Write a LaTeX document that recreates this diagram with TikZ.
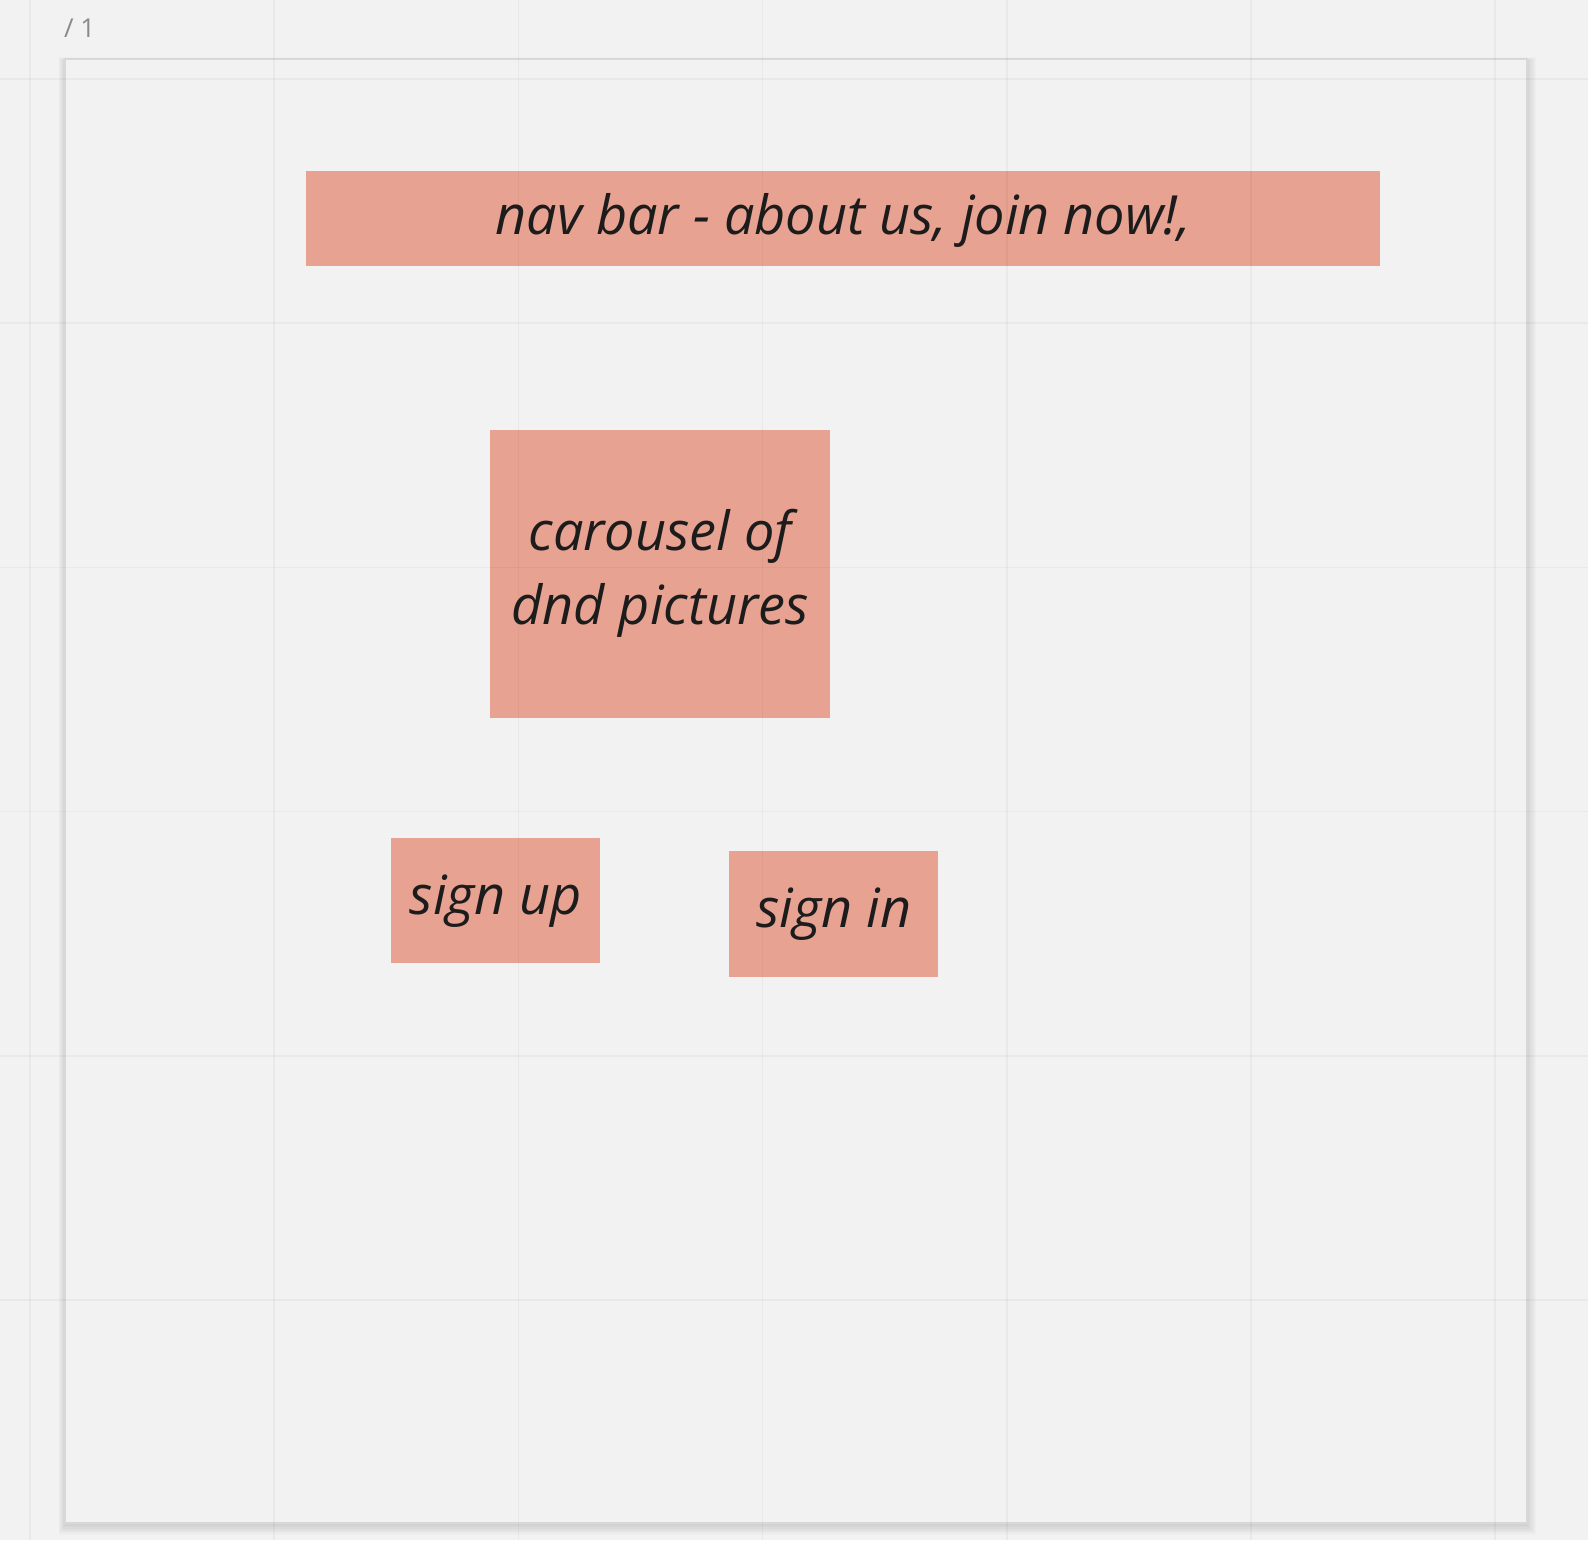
\documentclass[tikz,border=0pt]{standalone}
\usepackage{fontspec}
\setmainfont{Open Sans}
\definecolor{bgc}{HTML}{F2F2F2}
\definecolor{framebd}{HTML}{D8D8D8}
\definecolor{sticky}{HTML}{E7A291}
\definecolor{inkc}{HTML}{1C1C1C}
\definecolor{labelc}{HTML}{8A8A8A}
\tikzset{
  stickybox/.style={rectangle, fill=sticky, draw=none, inner sep=0pt, anchor=center},
  stickytext/.style={text=inkc, font=\fontsize{54}{74}\selectfont\itshape, align=center, inner sep=0pt, anchor=center},
  gridline/.style={black, opacity=0.035, line width=1.6pt}
}
\begin{document}
\begin{tikzpicture}[x=1pt,y=-1pt]
\useasboundingbox (0,0) rectangle (1588,1540);
\fill[bgc] (0,0) rectangle (1588,1540);
% soft shadow of the frame
\foreach \i in {1,...,8}{
  \fill[black, opacity=0.014] (65-\i*0.8, 59-\i*0.5+2) rectangle (1527+\i*1.1, 1523+\i*1.2+2);
}
\fill[bgc, draw=framebd, line width=1.5pt] (65,59) rectangle (1527,1523);
% page label
\node[text=labelc, font=\fontsize{26}{30}\selectfont, anchor=west, inner sep=0pt] (pagelabel) at (64,28) {/ 1};
% stickies
\node[stickybox, minimum width=1074pt, minimum height=95pt] (nav) at (843,218.5) {};
\node[stickytext] (navt) at (843.5,220) {nav bar - about us, join now!,};
\node[stickybox, minimum width=340pt, minimum height=288pt] (car) at (660,574) {};
\node[stickytext] (cart) at (660,573) {carousel of\\dnd pictures};
\node[stickybox, minimum width=209pt, minimum height=125pt] (up) at (495.5,900) {};
\node[stickytext] (upt) at (496,901) {sign up};
\node[stickybox, minimum width=209pt, minimum height=126pt] (in) at (833.5,914) {};
\node[stickytext] (int) at (834,914) {sign in};
% grid on top
\foreach \gx in {30,274.2,518.4,762.6,1006.8,1251,1495.2}{
  \draw[gridline] (\gx,0) -- (\gx,1540);
}
\foreach \gy in {79,323.2,567.4,811.6,1055.8,1300}{
  \draw[gridline] (0,\gy) -- (1588,\gy);
}
\end{tikzpicture}
\end{document}
